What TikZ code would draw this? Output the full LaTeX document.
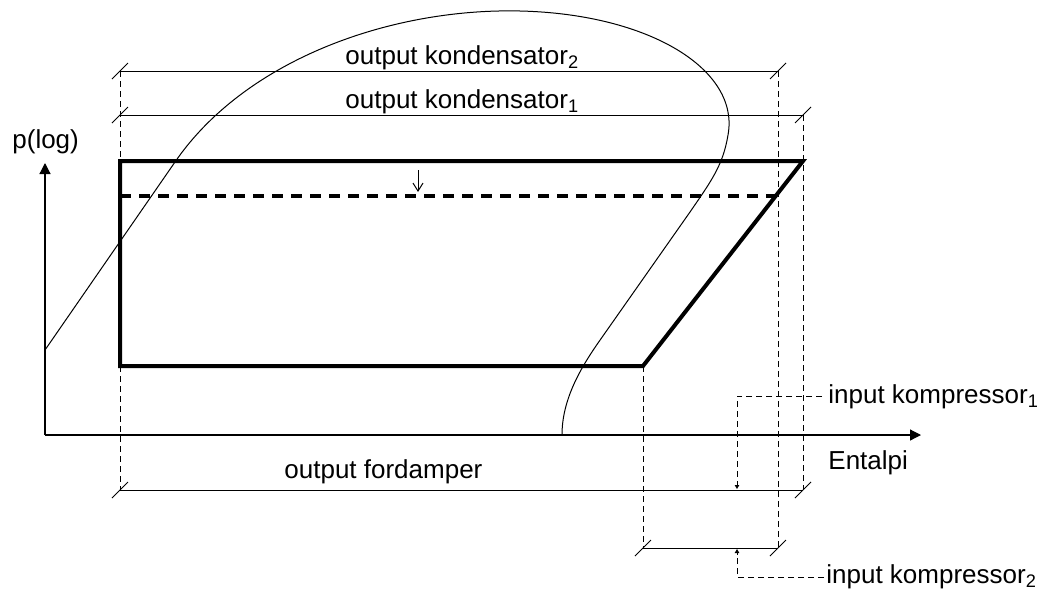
\documentclass[tikz,border=0pt]{standalone}
\usepackage{fontspec}
\setmainfont{Liberation Sans}
\usetikzlibrary{arrows.meta,calc}
\newcommand\dimtick[1]{\draw[thinline] (#1) ++(-8,8) -- ++(16,-16);}
\begin{document}
\begin{tikzpicture}[x=0.5pt,y=-0.5pt,
  thinline/.style={line width=0.5pt},
  cycleline/.style={line width=2pt, line join=miter, line cap=butt},
  cycledash/.style={line width=1.9pt, dash pattern=on 5.5pt off 4pt},
  dimdash/.style={line width=0.5pt, dash pattern=on 3pt off 2pt},
  axisline/.style={line width=0.6pt, -{Triangle[length=5.5pt,width=5.5pt]}},
  smalltip/.style={line width=0.5pt, -{Triangle[length=2pt,width=2.2pt]}},
  lbl/.style={font=\fontsize{13}{15}\selectfont, inner sep=0pt, anchor=base west}]
\useasboundingbox (0,0) rectangle (1044,590);
% coordinates
\coordinate (O) at (45,435);
\coordinate (Ytip) at (45,163);
\coordinate (Xtip) at (921,435);
\coordinate (A) at (120,161);
\coordinate (B) at (803,161);
\coordinate (C) at (643,366);
\coordinate (D) at (120,366);
\coordinate (E) at (120,196);
\coordinate (F) at (776,196);
\coordinate (K2L) at (120,71);
\coordinate (K2R) at (778,71);
\coordinate (K1L) at (120,115);
\coordinate (K1R) at (803,115);
\coordinate (FL) at (120,490);
\coordinate (FR) at (803,490);
\coordinate (KbL) at (643,548);
\coordinate (KbR) at (778,548);
\coordinate (I1a) at (822,396);
\coordinate (I1b) at (737,396);
\coordinate (I1c) at (737,489);
\coordinate (I1d) at (737,483);
\coordinate (I2a) at (824,577);
\coordinate (I2b) at (737,577);
\coordinate (I2c) at (737,549);
\coordinate (I2d) at (737,555);
\coordinate (Pa) at (418,170);
\coordinate (Pb) at (418,192);
% saturation dome
\draw[thinline, line join=round] (45,350) -- (175,162)
  .. controls (245,60) and (390,8) .. (520,11)
  .. controls (650,14) and (740,70) .. (728,135)
  .. controls (723,165) and (712,180) .. (690,212)
  -- (598,343)
  .. controls (580,369) and (562,400) .. (562,435);
% axes
\draw[axisline] (O) -- (Ytip);
\draw[axisline] (O) -- (Xtip);
% cycle
\draw[cycleline] (C) -- (D) -- (A) -- (B) -- cycle;
\draw[cycledash] (E) -- (F);
\draw[thinline, -{Straight Barb[length=4pt,width=5pt]}] (Pa) -- (Pb);
% dimension lines
\draw[thinline] (K2L) -- (K2R);
\draw[thinline] (K1L) -- (K1R);
\draw[thinline] (FL) -- (FR);
\draw[thinline] (KbL) -- (KbR);
\dimtick{K2L}\dimtick{K2R}\dimtick{K1L}\dimtick{K1R}
\dimtick{FL}\dimtick{FR}\dimtick{KbL}\dimtick{KbR}
% extension lines
\draw[dimdash] (K2L) -- (A);
\draw[dimdash] (D) -- (FL);
\draw[dimdash] (K2R) -- (KbR);
\draw[dimdash] (K1R) -- (FR);
\draw[dimdash] (C) -- (KbL);
% compressor input leaders
\draw[dimdash] (I1a) -- (I1b) -- (I1d);
\draw[smalltip] (I1d) -- (I1c);
\draw[dimdash] (I2a) -- (I2b) -- (I2d);
\draw[smalltip] (I2d) -- (I2c);
% labels
\node[lbl] (lk2) at (345,64) {output kondensator\textsubscript{2}};
\node[lbl] (lk1) at (345,108) {output kondensator\textsubscript{1}};
\node[lbl] (lfd) at (284,478) {output fordamper};
\node[lbl] (lent) at (828,469) {Entalpi};
\node[lbl] (lp) at (12,148) {p(log)};
\node[lbl] (li1) at (828,403) {input kompressor\textsubscript{1}};
\node[lbl] (li2) at (826,583) {input kompressor\textsubscript{2}};
\end{tikzpicture}
\end{document}
